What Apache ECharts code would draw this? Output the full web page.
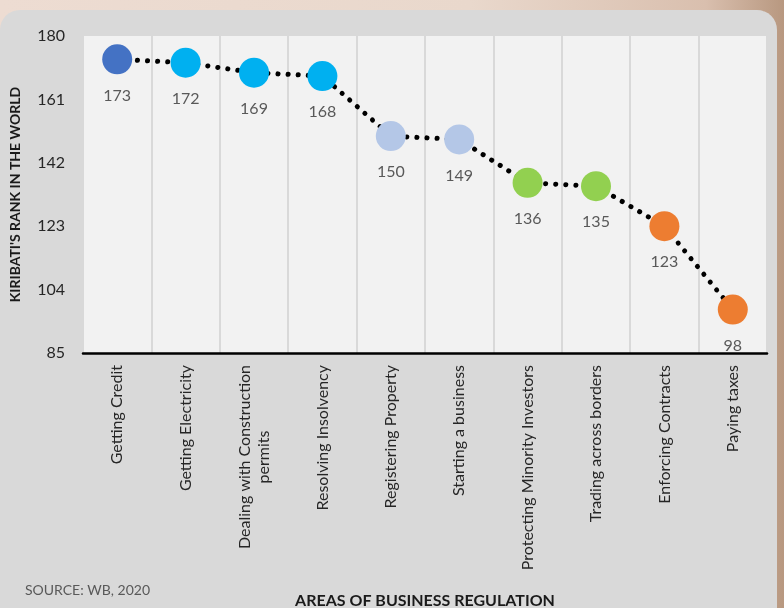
<!DOCTYPE html>
<html>
<head>
<meta charset="utf-8">
<script src="https://cdn.jsdelivr.net/npm/echarts@6/dist/echarts.min.js"></script>
<style>
  html, body { margin: 0; padding: 0; }
  body {
    width: 784px; height: 608px; overflow: hidden; position: relative;
    background: linear-gradient(90deg, #eddcd2 0%, #e9d8cc 60%, #d9bfae 90%, #b89880 100%);
  }
  #panel {
    position: absolute; left: 0; top: 10px; width: 777px; height: 598px;
    background: #d9d9d9; border-radius: 20px 20px 0 0;
  }
  #chart { position: absolute; left: 0; top: 0; width: 784px; height: 608px; }
</style>
</head>
<body>
<div id="panel"></div>
<div id="chart"></div>
<script>
// areas of business regulation (x axis)
const categories = [
  'Getting Credit',
  'Getting Electricity',
  'Dealing with Construction\npermits',
  'Resolving Insolvency',
  'Registering Property',
  'Starting a business',
  'Protecting Minority Investors',
  'Trading across borders',
  'Enforcing Contracts',
  'Paying taxes'
]
// Kiribati's rank in the world
const ranks = [173, 172, 169, 168, 150, 149, 136, 135, 123, 98]
// y axis ticks
const yTicks = [85, 104, 123, 142, 161, 180]

// marker colours, one per point
const markerColors = ['#4472c4', '#00b0f0', '#00b0f0', '#00b0f0', '#b4c7e7',
  '#b4c7e7', '#92d050', '#92d050', '#ed7d31', '#ed7d31']

const FONT = 'Lato'
const chart = echarts.init(document.getElementById('chart'))

chart.setOption({
  backgroundColor: 'transparent',
  textStyle: { fontFamily: FONT },
  grid: {
    left: 83,
    right: 17,
    top: 36,
    bottom: 255,
    show: true,
    backgroundColor: '#f2f2f2',
    borderWidth: 0,
    outerBoundsMode: 'none',
    containLabel: false
  },
  xAxis: {
    type: 'category',
    data: categories,
    boundaryGap: true,
    name: 'AREAS OF BUSINESS REGULATION',
    nameLocation: 'middle',
    nameGap: 240,
    nameTextStyle: { fontFamily: FONT, fontWeight: 'bold', fontSize: 16, color: '#1a1a1a' },
    axisLine: { lineStyle: { color: '#000', width: 2.5 } },
    axisTick: { show: false },
    splitLine: { show: true, lineStyle: { color: '#d9d9d9', width: 2 } },
    axisLabel: {
      interval: 0,
      rotate: 90,
      margin: 12,
      fontSize: 16,
      color: '#262626',
      fontFamily: FONT,
      formatter: function(v) {
        if (v.indexOf('\n') < 0) return v
        return v.split('\n').map(s => '{c|' + s + '}').join('\n')
      },
      rich: {
        c: { align: 'center', fontSize: 16, color: '#262626', fontFamily: FONT, lineHeight: 19 }
      }
    }
  },
  yAxis: {
    type: 'value',
    min: yTicks[0],
    max: yTicks[yTicks.length - 1],
    interval: yTicks[1] - yTicks[0],
    name: "KIRIBATI'S RANK IN THE WORLD",
    nameLocation: 'middle',
    nameGap: 61,
    nameRotate: 90,
    nameTextStyle: { fontFamily: FONT, fontWeight: 'bold', fontSize: 14, color: '#1a1a1a' },
    axisLine: { show: false },
    axisTick: { show: false },
    splitLine: { show: false },
    axisLabel: { fontSize: 16, color: '#262626', margin: 18, fontFamily: FONT }
  },
  graphic: [
    {
      type: 'text',
      left: 25,
      top: 583,
      style: { text: 'SOURCE: WB, 2020', fontSize: 14, fill: '#595959', fontFamily: FONT }
    }
  ],
  series: [
    {
      type: 'line',
      data: ranks,
      symbol: 'circle',
      symbolSize: 30,
      lineStyle: { color: '#000', width: 5, type: [0.1, 10], cap: 'round' },
      itemStyle: {
        color: p => markerColors[p.dataIndex]
      },
      label: {
        show: true,
        position: 'bottom',
        distance: 13,
        fontSize: 16,
        color: '#595959',
        fontFamily: FONT
      },
      emphasis: { disabled: true },
      z: 3
    }
  ]
})
</script>
</body>
</html>
